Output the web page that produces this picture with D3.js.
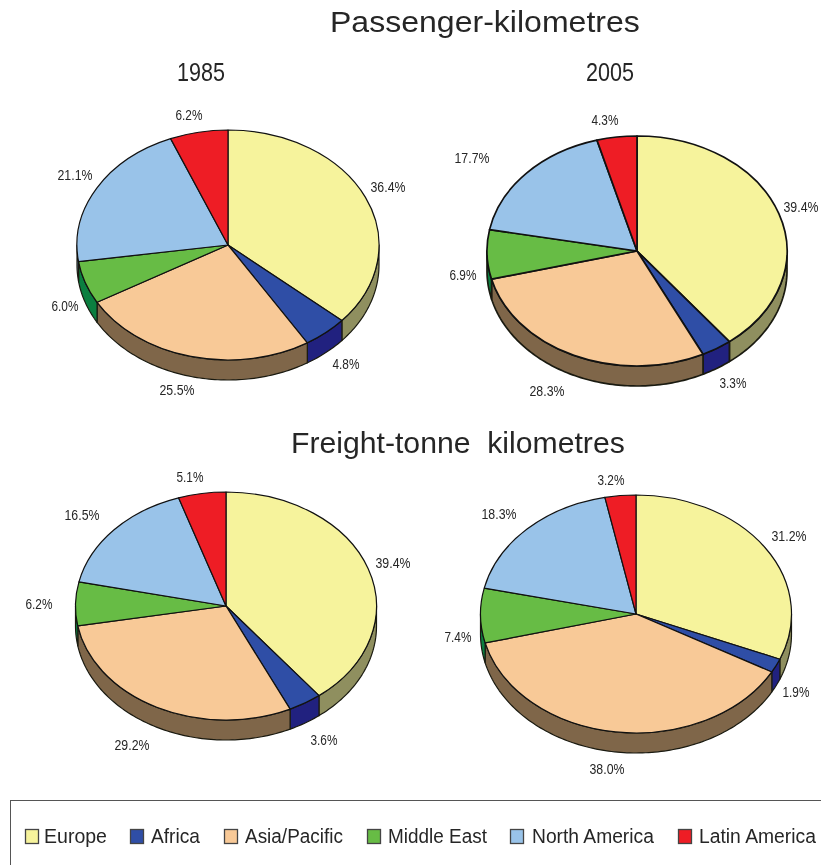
<!DOCTYPE html>
<html>
<head>
<meta charset="utf-8">
<script src="https://cdn.jsdelivr.net/npm/d3@7"></script>
<style>
html,body{margin:0;padding:0;background:#fff;overflow:hidden}
svg{display:block;filter:blur(0.35px)}
text{font-family:"Liberation Sans",Arial,sans-serif;fill:#262626;white-space:pre}
</style>
</head>
<body>
<div id="chart"></div>
<script>
// ---- data ----
const regions = ["Europe","Africa","Asia/Pacific","Middle East","North America","Latin America"];
const passenger1985 = [36.4,4.8,25.5,6.0,21.1,6.2];
const passenger2005 = [39.4,3.3,28.3,6.9,17.7,4.3];
const freight1985   = [39.4,3.6,29.2,6.2,16.5,5.1];
const freight2005   = [31.2,1.9,38.0,7.4,18.3,3.2];

// ---- styles ----
const topColors  = ["#F6F39C","#2F4EA6","#F8C997","#67BC45","#99C3E9","#EE1D25"];
const sideColors = ["#8F8F5F","#21217F","#7F6649","#0B7F40","#5A7A98","#8E1218"];

// ---- layout ----
const W = 821, H = 865, depth = 20;
const pies = [
  {values:passenger1985, cx:228, cy:245, rx:151,   ry:115, sw:1.2,
   labels:[[388,187],[346,364],[177,390],[65,306],[75,175],[189,115]]},
  {values:passenger2005, cx:637, cy:251, rx:150,   ry:115, sw:1.7,
   labels:[[801,207],[733,383],[547,391],[463,275],[472,158],[605,120]]},
  {values:freight1985,   cx:226, cy:606, rx:150.5, ry:114, sw:1.2,
   labels:[[393,563],[324,740],[132,745],[39,604],[82,515],[190,477]]},
  {values:freight2005,   cx:636, cy:614, rx:155.5, ry:119, sw:1.2,
   labels:[[789,536],[796,692],[607,769],[458,637],[499,514],[611,480]]}
];
const titles = [
  {text:"Passenger-kilometres",      x:330, y:32,  size:30, len:310},
  {text:"Freight-tonne  kilometres", x:291, y:453, size:30, len:334},
  {text:"1985",                      x:177, y:81,  size:25, len:48},
  {text:"2005",                      x:586, y:81,  size:25, len:48}
];
const legendSwatchX = [25,130,224,367,510,678];
const legendTextX   = [44,151,245,388,532,699];
const legendTextLen = [63,49,98,99,122,117];

const svg = d3.select("#chart").append("svg").attr("width",W).attr("height",H);

// squeeze a text horizontally to a measured width, anchored at its left edge
function fit(node,x,y,len){
  const natural = node.getComputedTextLength();
  d3.select(node).attr("transform",`translate(${x},${y}) scale(${len/natural},1)`);
}

const pieGen = d3.pie().sort(null).value(d=>d).startAngle(0).endAngle(2*Math.PI);
const arcGen = d3.arc().innerRadius(0).outerRadius(1);

pies.forEach(p=>{
  const g = svg.append("g");
  const x = d3.scaleLinear().domain([-1,1]).range([p.cx-p.rx,p.cx+p.rx]);
  const y = d3.scaleLinear().domain([-1,1]).range([p.cy-p.ry,p.cy+p.ry]);
  const arcs = pieGen(p.values);
  const wall = d3.area().x(a=>x(Math.sin(a))).y0(a=>y(-Math.cos(a))).y1(a=>y(-Math.cos(a))+depth);

  // side wall: only the front half of the disc is visible
  arcs.forEach((a,i)=>{
    const a0 = Math.max(a.startAngle,Math.PI/2), a1 = Math.min(a.endAngle,3*Math.PI/2);
    if(a1<=a0) return;
    const samples = d3.range(a0,a1,0.02).concat([a1]);
    g.append("path").attr("d",wall(samples)+"Z")
      .attr("fill",sideColors[i]).attr("stroke","#1a1a10").attr("stroke-width",p.sw).attr("stroke-linejoin","round");
  });
  // top face
  g.selectAll("path.top").data(arcs).enter().append("path").attr("class","top")
    .attr("d",arcGen)
    .attr("transform",`translate(${p.cx},${p.cy}) scale(${p.rx},${p.ry})`)
    .attr("fill",(d,i)=>topColors[i])
    .attr("stroke","#111").attr("stroke-width",p.sw)
    .attr("vector-effect","non-scaling-stroke").attr("stroke-linejoin","round");
  // percentage labels
  g.selectAll("text").data(p.values).enter().append("text")
    .attr("font-size",14)
    .text(d=>d.toFixed(1)+"%")
    .each(function(d,i){
      const len = d>=10?35:27;
      fit(this,p.labels[i][0]-len/2,p.labels[i][1]+5,len);
    });
});

// titles
svg.selectAll("text.title").data(titles).enter().append("text").attr("class","title")
  .attr("font-size",d=>d.size).text(d=>d.text)
  .each(function(d){ fit(this,d.x,d.y,d.len); });

// legend
svg.append("rect").attr("x",10.5).attr("y",800.5).attr("width",W).attr("height",H)
  .attr("fill","none").attr("stroke","#555").attr("stroke-width",1);
const lg = svg.append("g").selectAll("g").data(regions).enter().append("g");
lg.append("rect").attr("x",(d,i)=>legendSwatchX[i]+0.5).attr("y",829.5).attr("width",13).attr("height",14)
  .attr("fill",(d,i)=>topColors[i]).attr("stroke","#444").attr("stroke-width",1.3);
lg.append("text").attr("font-size",21).text(d=>d)
  .each(function(d,i){ fit(this,legendTextX[i],843,legendTextLen[i]); });
</script>
</body>
</html>
